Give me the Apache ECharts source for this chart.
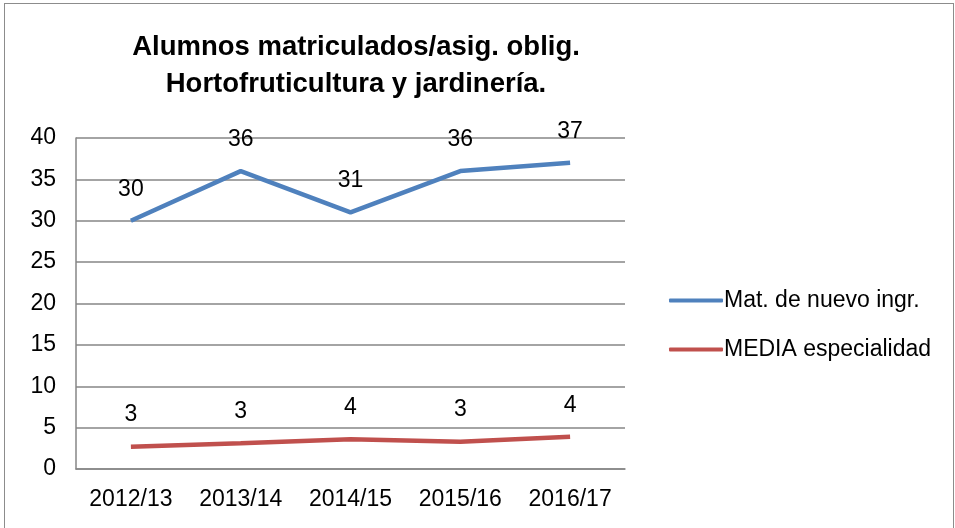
<!DOCTYPE html>
<html>
<head>
<meta charset="utf-8">
<script src="https://cdn.jsdelivr.net/npm/echarts@6/dist/echarts.min.js"></script>
<style>
  html, body { margin: 0; padding: 0; background: #fff; }
  #frame { position: absolute; left: 4px; top: 3px; width: 948px; height: 540px; border: 1px solid #8c8c8c; }
  #chart { position: absolute; left: 0; top: 0; width: 955px; height: 528px; }
</style>
</head>
<body>
<div id="frame"></div>
<div id="chart"></div>
<script>
const categories = ['2012/13', '2013/14', '2014/15', '2015/16', '2016/17'];
const nuevoIngreso = [30, 36, 31, 36, 37];
const mediaEspecialidad = [2.7, 3.1, 3.6, 3.3, 3.9];
const seriesNames = ['Mat. de nuevo ingr.', 'MEDIA especialidad'];

const font = 'Liberation Sans';
const chart = echarts.init(document.getElementById('chart'));

const labelStyle = {
  show: true, position: 'top', distance: 20,
  fontSize: 23, color: '#000', fontFamily: font,
  formatter: p => Math.round(p.value),
};

chart.setOption({
  animation: false,
  title: {
    text: 'Alumnos matriculados/asig. oblig.\nHortofruticultura y jardinería.',
    left: 351, top: 24, textAlign: 'center',
    textStyle: { fontSize: 27.5, fontWeight: 'bold', color: '#000', fontFamily: font, lineHeight: 37 },
  },
  legend: {
    orient: 'vertical', left: 664, top: 284, itemGap: 26,
    itemWidth: 54, itemHeight: 4,
    icon: 'roundRect',
    textStyle: { fontSize: 23, color: '#000', fontFamily: font, padding: [0, 0, 0, -4] },
    data: seriesNames,
  },
  grid: { left: 76, right: 330, top: 138, bottom: 59 },
  xAxis: {
    type: 'category', data: categories, boundaryGap: true,
    axisLine: { lineStyle: { color: '#868686', width: 1.5 } },
    axisTick: { show: false },
    axisLabel: { fontSize: 23, color: '#000', fontFamily: font, margin: 19 },
  },
  yAxis: {
    type: 'value', min: 0, max: 40, interval: 5,
    axisLine: { show: true, lineStyle: { color: '#868686', width: 1.5 } },
    axisTick: { show: false },
    splitLine: { lineStyle: { color: '#868686', width: 1.5 } },
    axisLabel: { fontSize: 23, color: '#000', fontFamily: font, margin: 20 },
  },
  series: [
    {
      name: seriesNames[0], type: 'line', data: nuevoIngreso,
      symbol: 'circle', symbolSize: 0.1, color: '#4F81BD',
      lineStyle: { width: 4.5, color: '#4F81BD' },
      label: labelStyle,
    },
    {
      name: seriesNames[1], type: 'line', data: mediaEspecialidad,
      symbol: 'circle', symbolSize: 0.1, color: '#C0504D',
      lineStyle: { width: 4.5, color: '#C0504D' },
      label: labelStyle,
    },
  ],
});
</script>
</body>
</html>
